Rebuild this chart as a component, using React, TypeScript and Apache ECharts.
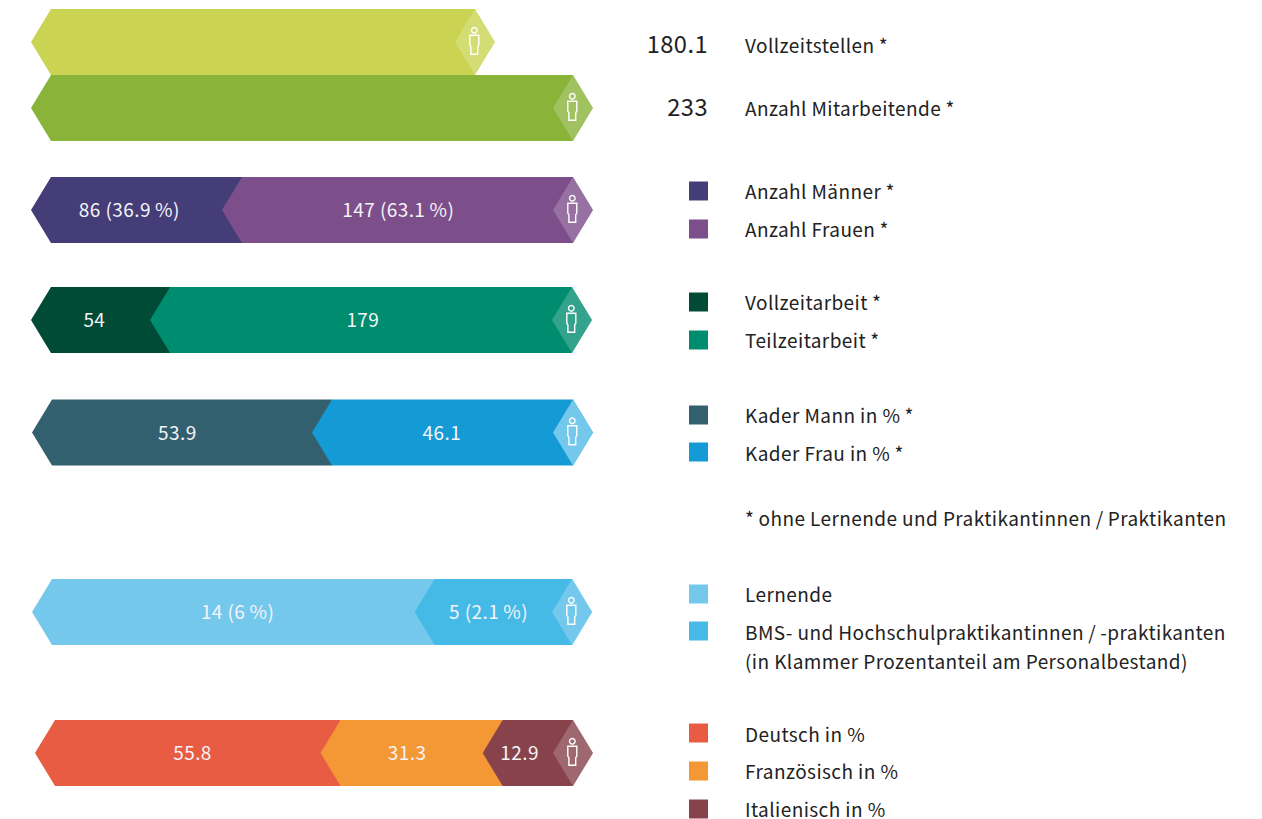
import React, { useEffect, useRef } from "react";
import * as echarts from "echarts";

// ---- data ----
const fullTimePositions = [180.1];
const employees = [233];
const genderCounts = [86, 147];
const workloadCounts = [54, 179];
const cadreShares = [53.9, 46.1];
const traineeCounts = [14, 5];
const languageShares = [55.8, 31.3, 12.9];

const genderLabels = ["86 (36.9\u2009%)", "147 (63.1\u2009%)"];
const workloadLabels = ["54", "179"];
const cadreLabels = ["53.9", "46.1"];
const traineeLabels = ["14 (6\u2009%)", "5 (2.1\u2009%)"];
const languageLabels = ["55.8", "31.3", "12.9"];

const headlineValues = ["180.1", "233"];
const headlineNames = ["Vollzeitstellen\u2009*", "Anzahl Mitarbeitende\u2009*"];
const legendNames = [
  "Anzahl Männer\u2009*", "Anzahl Frauen\u2009*", "Vollzeitarbeit\u2009*", "Teilzeitarbeit\u2009*",
  "Kader Mann in %\u2009*", "Kader Frau in %\u2009*", "Lernende",
  "BMS- und Hochschulpraktikantinnen\u2009/\u2009-praktikanten",
  "Deutsch in %", "Französisch in %", "Italienisch in %",
];
const footnote = "*\u2009ohne Lernende und Praktikantinnen\u2009/\u2009Praktikanten";
const bracketNote = "(in Klammer Prozentanteil am Personalbestand)";

// ---- styles and layout ----
const FONT = '"Noto Sans CJK SC", "Noto Sans", sans-serif';
const WHITE_GLAZE = "rgba(255,255,255,0.2)";
const rowStyles = [
  { values: fullTimePositions, labels: [""], colors: ["#cad452"], max: 180.1, left: 51, right: 475, top: 9, shifts: [0], seam: 0, diamond: WHITE_GLAZE },
  { values: employees, labels: [""], colors: ["#89b339"], max: 233, left: 51, right: 573, top: 75, shifts: [0], seam: 0, diamond: WHITE_GLAZE },
  { values: genderCounts, labels: genderLabels, colors: ["#453d78", "#7c4e8a"], max: 233, left: 51, right: 573, top: 177, shifts: [-18, -10], seam: -1.7, diamond: WHITE_GLAZE },
  { values: workloadCounts, labels: workloadLabels, colors: ["#004b35", "#008c6e"], max: 233, left: 51, right: 572, top: 287, shifts: [-17, -9], seam: -1.7, diamond: WHITE_GLAZE },
  { values: cadreShares, labels: cadreLabels, colors: ["#33606f", "#149bd5"], max: 100, left: 52, right: 573, top: 399.5, shifts: [-15, -11], seam: -0.8, diamond: "#74c8ec" },
  { values: traineeCounts, labels: traineeLabels, colors: ["#74c8ec", "#46bae6"], max: 19, left: 52, right: 572, top: 579, shifts: [-6, -15], seam: -0.5, diamond: "#74c8ec" },
  { values: languageShares, labels: languageLabels, colors: ["#e85c44", "#f49735", "#88424c"], max: 100, left: 55, right: 573, top: 720, shifts: [-7, -18, -20], seam: -3.5, diamond: WHITE_GLAZE },
];
const BAR_H = 66;
const TIP = 20;

const legendY = [191, 229, 302, 340, 415, 453, 594, 632, 734, 771, 809];
const swatchY = [191, 229, 302, 340, 415, 452, 594, 631, 733, 771, 809];
const legendColors = ["#453d78", "#7c4e8a", "#004b35", "#008c6e", "#33606f", "#149bd5", "#74c8ec", "#46bae6", "#e85c44", "#f49735", "#88424c"];

function makeRenderItem(r: (typeof rowStyles)[number]) {
  const { colors, labels, shifts, seam, diamond } = r;
  const count = r.values.length;
  return (params: any, api: any) => {
    const i = params.dataIndex;
    const s = api.coord([api.value(0), 0]);
    const e = api.coord([api.value(1), 0]);
    const h = api.size([0, 1])[1];
    const cy = s[1];
    const top = cy - h / 2;
    const bottom = cy + h / 2;
    const x0 = s[0] + (i > 0 ? seam : 0);
    const x1 = e[0] + (i < count - 1 ? seam : 0);
    const last = i === count - 1;
    const children: any[] = [];
    const pts = last
      ? [[x0, top], [x1, top], [x1 + TIP, cy], [x1, bottom], [x0, bottom], [x0 - TIP, cy]]
      : [[x0, top], [x1, top], [x1, bottom], [x0, bottom], [x0 - TIP, cy]];
    children.push({ type: "polygon", shape: { points: pts }, style: { fill: colors[i] } });
    if (labels[i]) {
      children.push({
        type: "text",
        style: {
          text: labels[i],
          x: (s[0] + e[0]) / 2 + shifts[i],
          y: cy - 1.5,
          align: "center",
          verticalAlign: "middle",
          fill: "#f4f4f8",
          font: `400 19px ${FONT}`,
        },
      });
    }
    if (last) {
      children.push({
        type: "polygon",
        shape: { points: [[x1 - TIP, cy], [x1, top], [x1 + TIP, cy], [x1, bottom]] },
        style: { fill: diamond },
      });
      const ix = x1 - 0.7;
      children.push({
        type: "circle",
        shape: { cx: ix, cy: cy - 11.7, r: 2.8 },
        style: { fill: "none", stroke: "#fff", lineWidth: 1.4 },
      });
      children.push({
        type: "polygon",
        shape: {
          points: [
            [ix - 4.5, cy - 6.8], [ix + 4.5, cy - 6.8], [ix + 4.5, cy + 3], [ix + 3.4, cy + 5],
            [ix + 3.4, cy + 12.3], [ix - 3.4, cy + 12.3], [ix - 3.4, cy + 5], [ix - 4.5, cy + 3],
          ],
        },
        style: { fill: "none", stroke: "#fff", lineWidth: 1.4 },
      });
    }
    return { type: "group", children };
  };
}

function buildOption() {
  const grid = rowStyles.map((r) => ({ left: r.left, width: r.right - r.left, top: r.top, height: BAR_H, containLabel: false }));
  const xAxis = rowStyles.map((r, i) => ({ type: "value", gridIndex: i, min: 0, max: r.max, show: false }));
  const yAxis = rowStyles.map((_, i) => ({ type: "category", gridIndex: i, data: ["row"], show: false }));
  const series = rowStyles.map((r, i) => {
    let run = 0;
    const data = r.values.map((v) => {
      const item = [run, run + v];
      run += v;
      return item;
    });
    return {
      type: "custom",
      xAxisIndex: i,
      yAxisIndex: i,
      silent: true,
      encode: { x: [0, 1] },
      renderItem: makeRenderItem(r),
      data,
    };
  });

  const text = (t: string, x: number, y: number, size: number, align = "left") => ({
    type: "text",
    x,
    y,
    style: { text: t, align, verticalAlign: "middle", fill: "#222", font: `400 ${size}px ${FONT}` },
  });
  const graphic: any[] = [
    text(headlineValues[0], 708, 43, 23.7, "right"),
    text(headlineValues[1], 708, 106, 23.7, "right"),
    text(headlineNames[0], 745, 44, 19),
    text(headlineNames[1], 745, 107, 19),
    text(footnote, 745, 517, 19),
    text(bracketNote, 745, 660, 19),
  ];
  legendNames.forEach((n, i) => {
    graphic.push({
      type: "rect",
      shape: { x: 689, y: swatchY[i] - 9.5, width: 19, height: 19 },
      style: { fill: legendColors[i] },
    });
    graphic.push(text(n, 745, legendY[i] - 1, 19));
  });

  return { animation: false, backgroundColor: "#fff", grid, xAxis, yAxis, series, graphic };
}

export default function App() {
  const ref = useRef<HTMLDivElement>(null);
  useEffect(() => {
    const chart = echarts.init(ref.current!, undefined, { renderer: "svg" });
    chart.setOption(buildOption() as any);
    return () => chart.dispose();
  }, []);
  return (
    <>
      <style>{`svg text { letter-spacing: 0.42px; }`}</style>
      <div
        ref={ref}
        style={{ position: "fixed", left: 0, top: 0, width: 1262, height: 819 }}
      />
    </>
  );
}
